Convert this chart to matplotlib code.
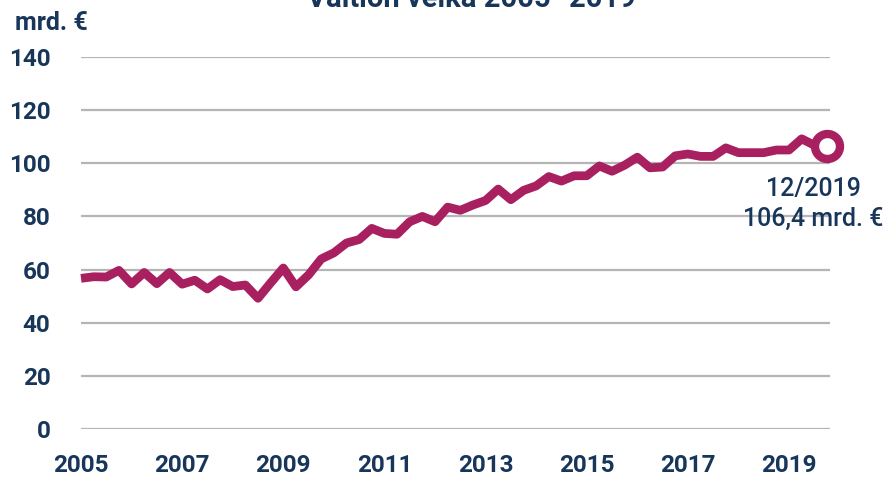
import matplotlib
matplotlib.use('Agg')
import matplotlib.pyplot as plt

# quarterly state debt, bn EUR (2005Q1 .. 2019Q4)
debt = [56.7, 57.3, 57.2, 59.7, 54.6, 58.9, 54.7, 58.9,
        54.5, 56.0, 52.7, 56.2, 53.6, 54.2, 49.2, 55.0,
        60.6, 53.5, 58.0, 64.0, 66.3, 70.0, 71.3, 75.5,
        73.6, 73.3, 78.0, 80.0, 78.0, 83.5, 82.3, 84.3,
        86.0, 90.3, 86.3, 89.8, 91.5, 95.0, 93.3, 95.3,
        95.3, 99.0, 97.0, 99.3, 102.3, 98.3, 98.6, 102.8,
        103.5, 102.6, 102.6, 105.8, 104.0, 104.0, 104.0, 105.0,
        105.0, 109.2, 106.8, 106.4]
year_labels = ['2005', '2007', '2009', '2011', '2013', '2015', '2017', '2019']
y_ticks = [0, 20, 40, 60, 80, 100, 120, 140]
title = 'Valtion velka 2005–2019'
unit = 'mrd. €'
last_label = '12/2019\n106,4 mrd. €'

line_col = '#a8205f'
text_col = '#18365a'
grid_col = '#b5b5b5'
fonts = ['Roboto', 'DejaVu Sans']

fig = plt.figure(figsize=(8.92, 4.79), dpi=100)
ax = fig.add_axes([81/892, 50/479, 749/892, 372/479])

x = list(range(len(debt)))
ax.plot(x, debt, color=line_col, lw=6.3, solid_joinstyle='round',
        solid_capstyle='butt', zorder=3, clip_on=False)
ax.plot(x[-1], debt[-1], 'o', ms=18, mfc='white', mec=line_col, mew=6,
        zorder=4, clip_on=False)

ax.set_ylim(0, 140)
ax.set_xlim(0, len(debt) - 1 + 0.24)
ax.set_yticks(y_ticks)
ax.set_xticks(list(range(0, len(debt), 8)))
ax.set_xticklabels(year_labels)
ax.yaxis.grid(True, color=grid_col, lw=1.6)
ax.set_axisbelow(True)
for s in ax.spines.values():
    s.set_visible(False)
ax.tick_params(axis='y', length=0, pad=22, labelcolor=text_col)
ax.tick_params(axis='x', length=0, pad=18, labelcolor=text_col)
for lab in ax.get_xticklabels() + ax.get_yticklabels():
    lab.set_family(fonts)
    lab.set_fontweight('bold')
    lab.set_fontsize(17.5)

ax.annotate(last_label, xy=(x[-1], debt[-1]), xytext=(-10, -22),
            textcoords='offset points', ha='center', va='top',
            color=text_col, fontsize=18, fontweight='medium',
            family=fonts, linespacing=1.3)

fig.text(15/892, 1 - 30/479, unit, color=text_col, fontsize=18,
         fontweight='bold', family=fonts, va='baseline')
# title is cropped at the top edge, as in the reference
fig.text(471/892, 1 - 7/479, title, color=text_col, fontsize=21,
         fontweight='bold', family=fonts, ha='center', va='baseline')

fig.savefig('out.png', dpi=100)
